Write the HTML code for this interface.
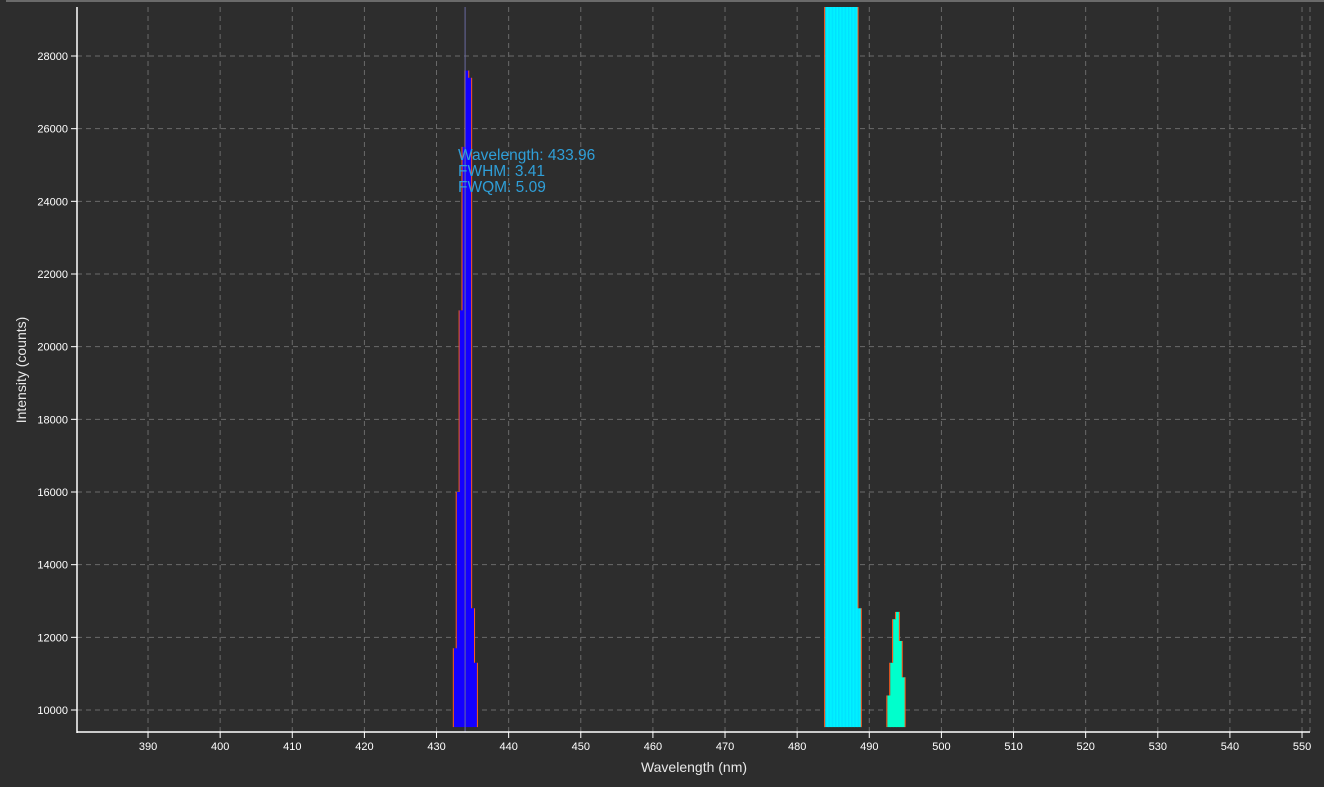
<!DOCTYPE html>
<html><head><meta charset="utf-8"><style>
html,body{margin:0;padding:0;background:#2d2d2d;}
svg{display:block;font-family:"Liberation Sans",sans-serif;}
</style></head><body>
<svg id="chart" width="1324" height="787" viewBox="0 0 1324 787" xmlns="http://www.w3.org/2000/svg">
<defs>
<linearGradient id="cyanGrad" x1="0" x2="1" y1="0" y2="0"><stop offset="0" stop-color="#00dcff"/><stop offset="1" stop-color="#00ffff"/></linearGradient>
</defs>
<rect x="0" y="0" width="1324" height="787" fill="#2d2d2d"/>
<line x1="6" y1="1" x2="1324" y2="1" stroke="#6a6a6a" stroke-width="2"/>
<g id="grid"></g>
<g id="marks"></g>
<g id="axes"></g>
<text x="458" y="160" fill="#2f9fd8" font-size="15.5">Wavelength: 433.96</text>
<text x="458" y="176" fill="#2f9fd8" font-size="15.5">FWHM: 3.41</text>
<text x="458" y="192" fill="#2f9fd8" font-size="15.5">FWQM: 5.09</text>
<text x="694" y="772" fill="#e8e8e8" font-size="14" text-anchor="middle">Wavelength (nm)</text>
<text transform="translate(26,370) rotate(-90)" fill="#e8e8e8" font-size="14" text-anchor="middle">Intensity (counts)</text>
</svg>
<script>
const xTicks = [390,400,410,420,430,440,450,460,470,480,490,500,510,520,530,540,550];
const yTicks = [10000,12000,14000,16000,18000,20000,22000,24000,26000,28000];
const baseline = 9530;
const blueWl = [432.6,433.0,433.4,433.8,434.2,434.6,435.0,435.4];
const blueVal = [11700,16000,21000,25500,27600,27400,12800,11300];
const cyanWl = [484.1,484.55,485.0,485.45,485.9,486.35,486.8,487.25,487.7,488.15,488.6];
const cyanVal = [40000,42000,45000,48000,50000,50000,49000,47000,45000,42000,12800];
const greenWl = [492.7,493.1,493.5,493.9,494.3,494.7];
const greenVal = [10400,11300,12500,12700,11900,10900];
const peakWl = 433.96;

const NS = 'http://www.w3.org/2000/svg';
const L=77, R=1310, T=7, B=732;
function xs(v){return 75.9 + (v-380)*7.2125;}
function ys(v){return 710 - (v-10000)*(654/18000);}
function mk(tag, attrs, parent){const e=document.createElementNS(NS,tag);for(const k in attrs)e.setAttribute(k,attrs[k]);parent.appendChild(e);return e;}
const grid=document.getElementById('grid'), axes=document.getElementById('axes'), marks=document.getElementById('marks');

xTicks.forEach(t=>{
  const x=xs(t);
  const g=mk('line',{x1:x,x2:x,y1:T,y2:B,stroke:'#6a6a6a','stroke-dasharray':'5,4'},grid);
  
  
  const tk=mk('line',{x1:x,x2:x,y1:B,y2:B+6,stroke:'#fff'},axes);
  
  
  const lb=mk('text',{x:x,y:B+18,fill:'#fff','font-size':'11','text-anchor':'middle'},axes);
  lb.textContent=t;
  
  
});
mk('line',{x1:1310,x2:1310,y1:T,y2:B,stroke:'#6a6a6a','stroke-dasharray':'5,4'},grid);
yTicks.forEach(t=>{
  const y=ys(t);
  const g=mk('line',{x1:L,x2:R,y1:y,y2:y,stroke:'#6a6a6a','stroke-dasharray':'5,4'},grid);
  
  
  const tk=mk('line',{x1:L-6,x2:L,y1:y,y2:y,stroke:'#fff'},axes);
  
  
  const lb=mk('text',{x:L-9,y:y+4,fill:'#fff','font-size':'11','text-anchor':'end'},axes);
  lb.textContent=t;
  
  
});
const ax1=mk('line',{x1:L,x2:L,y1:T,y2:B+1,stroke:'#fff','stroke-width':1.5},axes);


const ax2=mk('line',{x1:L,x2:R,y1:B,y2:B,stroke:'#fff','stroke-width':1.5},axes);



const clip=mk('clipPath',{id:'plotClip'},document.querySelector('defs'));
mk('rect',{x:L,y:T,width:R-L,height:B-T},clip);

function drawSeries(wl,val,fill,name){
  const step=wl.length>1?(wl[1]-wl[0]):0.4;
  const g=mk('g',{'clip-path':'url(#plotClip)'},marks);
  
  
  const yb=ys(baseline);
  wl.forEach((w,i)=>{
    const x0=xs(w-step/2), x1=xs(w+step/2);
    const y=ys(val[i]);
    const r=mk('rect',{x:x0,y:y,width:x1-x0+0.6,height:yb-y,fill:fill},g);
    
    
  });
  wl.forEach((w,i)=>{
    const x0=xs(w-step/2), x1=xs(w+step/2);
    const y=ys(val[i]);
    const prev=i>0?val[i-1]:baseline, next=i<wl.length-1?val[i+1]:baseline;
    if(val[i]>prev){
      const e=mk('line',{x1:x0-0.5,x2:x0-0.5,y1:y,y2:ys(prev),stroke:'#ff5a1e','stroke-width':1},g);
      
      
    }
    if(val[i]>next){
      const e=mk('line',{x1:x1+0.5,x2:x1+0.5,y1:y,y2:ys(next),stroke:'#ff5a1e','stroke-width':1},g);
      
      
    }
  });
}
drawSeries(blueWl,blueVal,'#1400ff','blue-peak');
drawSeries(cyanWl,cyanVal,'url(#cyanGrad)','cyan-peak');
drawSeries(greenWl,greenVal,'#00ffcc','green-peak');
const pl=mk('line',{x1:xs(peakWl),x2:xs(peakWl),y1:T,y2:B,stroke:'#6a6aa0','stroke-width':1},marks);


</script>
</body></html>
